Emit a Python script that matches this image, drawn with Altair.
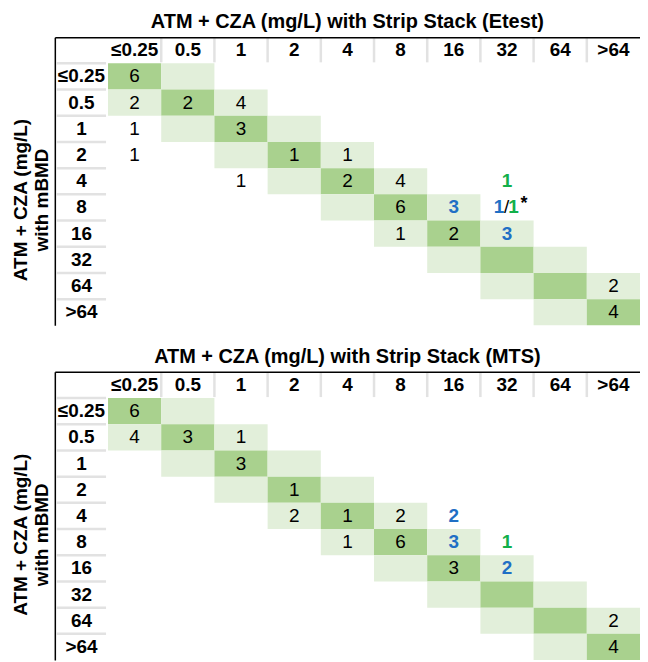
import altair as alt
import pandas as pd

# ---------------- data ----------------
COLS = ["≤0.25", "0.5", "1", "2", "4", "8", "16", "32", "64", ">64"]   # strip stack MIC
ROWS = ["≤0.25", "0.5", "1", "2", "4", "8", "16", "32", "64", ">64"]   # mBMD MIC
HDR = "hdr"

TITLE_ETEST = "ATM + CZA (mg/L) with Strip Stack (Etest)"
TITLE_MTS = "ATM + CZA (mg/L) with Strip Stack (MTS)"
Y_TITLE = ["ATM + CZA (mg/L)", "with mBMD"]

etest_row = ["≤0.25", "0.5", "0.5", "0.5", "1", "1", "2", "2", "2", "4", "4", "4", "4",
             "8", "8", "16", "16", "16", "64", ">64"]
etest_col = ["≤0.25", "≤0.25", "0.5", "1", "≤0.25", "1", "≤0.25", "2", "4", "1", "4", "8", "32",
             "8", "16", "8", "16", "32", ">64", ">64"]
etest_val = ["6", "2", "2", "4", "1", "3", "1", "1", "1", "1", "2", "4", "1",
             "6", "3", "1", "2", "3", "2", "4"]
etest_kind = ["k", "k", "k", "k", "k", "k", "k", "k", "k", "k", "k", "k", "g",
              "k", "b", "k", "k", "b", "k", "k"]
# split cell "1/1*" (row 8, col 32)
etest_split_row = "8"
etest_split_col = "32"
etest_split_parts = ["1", "/", "1", "*"]
etest_split_kind = ["b", "k", "g", "k"]

mts_row = ["≤0.25", "0.5", "0.5", "0.5", "1", "2", "4", "4", "4", "4",
           "8", "8", "8", "8", "16", "16", "64", ">64"]
mts_col = ["≤0.25", "≤0.25", "0.5", "1", "1", "2", "2", "4", "8", "16",
           "4", "8", "16", "32", "16", "32", ">64", ">64"]
mts_val = ["6", "4", "3", "1", "3", "1", "2", "1", "2", "2",
           "1", "6", "3", "1", "3", "2", "2", "4"]
mts_kind = ["k", "k", "k", "k", "k", "k", "k", "k", "k", "b",
            "k", "k", "b", "g", "k", "b", "k", "k"]

# ---------------- styles ----------------
FONT = "'Liberation Sans', Arial, sans-serif"
DARK_G = "#a9d18e"
LIGHT_G = "#e2efda"
KIND_COLOR = {"k": "#000000", "b": "#1f6fc5", "g": "#12b04a"}
COL_W = 53.4
ROW_H = 26.3
W = COL_W * (len(COLS) + 1)
H = ROW_H * (len(ROWS) + 1)

xs = alt.Scale(domain=[HDR] + COLS, paddingInner=0, paddingOuter=0)
ys = alt.Scale(domain=[HDR] + ROWS, paddingInner=0, paddingOuter=0)
xaxis = alt.Axis(orient="top", title=None, labels=False, ticks=False, grid=False,
                 domainColor="black", domainWidth=1.5)
yaxis = alt.Axis(orient="left", title=Y_TITLE, labels=False, ticks=False, grid=False,
                 domainColor="black", domainWidth=1.5, titleFont=FONT, titleFontSize=19,
                 titleFontWeight="bold", titleColor="black", titlePadding=3,
                 titleY=163)


def X(**kw):
    return alt.X("col:N", scale=xs, axis=xaxis, **kw)


def Y(**kw):
    return alt.Y("row:N", scale=ys, axis=yaxis, **kw)


def table(title, rows, cols, vals, kinds, split=None):
    shade = pd.DataFrame([
        {"row": r, "col": c, "level": "diag" if i == j else "near"}
        for i, r in enumerate(ROWS) for j, c in enumerate(COLS) if abs(i - j) <= 1
    ])
    hdr_top = pd.DataFrame({"row": [HDR] * len(COLS), "col": COLS, "label": COLS})
    hdr_left = pd.DataFrame({"row": ROWS, "col": [HDR] * len(ROWS), "label": ROWS})
    hdr = pd.concat([hdr_top, hdr_left])
    vsep = pd.DataFrame({"row": [HDR] * (len(COLS) - 1), "col": COLS[1:]})
    hsep = pd.DataFrame({"row": ROWS, "col": [HDR] * len(ROWS)})
    cells = pd.DataFrame({"row": rows, "col": cols, "val": vals, "kind": kinds})

    layers = [
        alt.Chart(shade).mark_rect().encode(
            x=X(), y=Y(),
            color=alt.Color("level:N", scale=alt.Scale(domain=["diag", "near"],
                                                        range=[DARK_G, LIGHT_G]),
                            legend=None)),
        alt.Chart(vsep).mark_tick(orient="vertical", color="#d6d6d6", thickness=2.5,
                                  size=ROW_H - 2).encode(
            x=X(bandPosition=0), y=Y()),
        alt.Chart(hsep).mark_tick(orient="horizontal", color="#d6d6d6", thickness=2.5,
                                  size=COL_W - 4).encode(
            x=X(), y=Y(bandPosition=0)),
        alt.Chart(hdr).mark_text(font=FONT, fontSize=19, fontWeight="bold",
                                 color="black").encode(
            x=X(), y=Y(), text="label:N"),
        alt.Chart(cells[cells.kind == "k"]).mark_text(font=FONT, fontSize=19,
                                                       color="black").encode(
            x=X(), y=Y(), text="val:N"),
    ]
    for k in ["b", "g"]:
        sub = cells[cells.kind == k]
        if len(sub):
            layers.append(alt.Chart(sub).mark_text(font=FONT, fontSize=19,
                                                   fontWeight="bold",
                                                   color=KIND_COLOR[k]).encode(
                x=X(), y=Y(), text="val:N"))
    if split is not None:
        srow, scol, parts, pkinds = split
        dxs = [-8, -0.5, 6.5, 17]
        for p, k, dx in zip(parts, pkinds, dxs):
            d = pd.DataFrame({"row": [srow], "col": [scol], "val": [p]})
            star = p == "*"
            layers.append(alt.Chart(d).mark_text(
                font=FONT, fontSize=18 if star else 19,
                fontWeight="normal" if (k == "k" and not star) else "bold",
                color=KIND_COLOR[k], dx=dx, dy=-3 if star else 0).encode(
                x=X(), y=Y(), text="val:N"))

    return alt.layer(*layers).properties(
        width=W, height=H,
        title=alt.TitleParams(text=title, font=FONT, fontSize=20, fontWeight="bold",
                              anchor="middle", offset=5, color="black"))


top = table(TITLE_ETEST, etest_row, etest_col, etest_val, etest_kind,
            split=(etest_split_row, etest_split_col, etest_split_parts, etest_split_kind))
bottom = table(TITLE_MTS, mts_row, mts_col, mts_val, mts_kind)

chart = alt.vconcat(top, bottom, spacing=21).properties(
    padding={"left": 4, "top": 3, "right": 0, "bottom": 0}
).configure_view(stroke=None)

chart.save("out.html", embed_options={"renderer": "svg", "actions": False})
